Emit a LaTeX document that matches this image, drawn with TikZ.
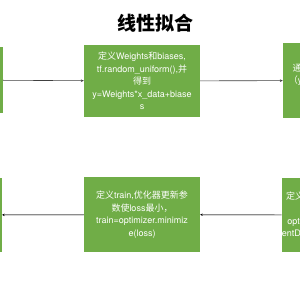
\documentclass[tikz,border=0pt]{standalone}
\usepackage{fontspec}
\setmainfont{TeX Gyre Heros}
\newfontfamily\cjk{Noto Sans CJK SC}
\usepackage{tikz}
\usetikzlibrary{arrows.meta}
\definecolor{boxgreen}{HTML}{70AD47}
\newcommand{\zh}[1]{{\cjk #1}}

\begin{document}
\begin{tikzpicture}[x=1pt,y=-1pt,
  stepbox/.style={fill=boxgreen, text=white, align=center, minimum width=116pt, inner sep=0pt, font=\fontsize{9}{12.5}\selectfont},
  fwd/.style={draw=black!75, line width=0.6pt, -{Stealth[length=3pt,width=2.6pt]}},
  back/.style={draw=black!45, line width=1.2pt, -{Stealth[length=2.5pt,width=2.5pt,color=black]}}]
  \clip (0,0) rectangle (300,300); \fill[white] (0,0) rectangle (300,300);
  \node[font=\fontsize{19}{19}\selectfont\cjk\bfseries] (title) at (155,23) {线性拟合};
  % first row
  \node[stepbox, minimum height=66pt] (data) at (-55,80) {};
  \node[stepbox, minimum height=72pt] (model) at (142,81) {\zh{定义}Weights\zh{和}biases,\\tf.random\_uniform(),\zh{并}\\\zh{得到}\\y=Weights*x\_data+biase\\s};
  \node[stepbox, minimum height=75pt, minimum width=100pt] (loss) at (333,80.5) {\zh{通过预测值计算误差}\\\zh{（}y-y\_data\zh{）的平方求}\\\zh{均值}loss};
  \draw[fwd] (data) -- (model); \draw[fwd] (model) -- (loss);
  % second row
  \node[stepbox, minimum height=74pt] (run) at (-56,215) {};
  \node[stepbox, minimum height=75pt] (train) at (142,214.5) {\zh{定义}train,\zh{优化器更新参}\\\zh{数使}loss\zh{最小，}\\train=optimizer.minimiz\\e(loss)};
  \node[stepbox, minimum height=74pt, minimum width=100pt] (opt) at (333,215) {\zh{定义学习率为}0.5\zh{的梯度}\\\zh{下降优化器，}\\optimizer=tf.train.Gradi\\entDescentOptimizer(0.5)};
  \draw[back] (opt) -- (train); \draw[back] (train) -- (run);
\end{tikzpicture}
\end{document}
